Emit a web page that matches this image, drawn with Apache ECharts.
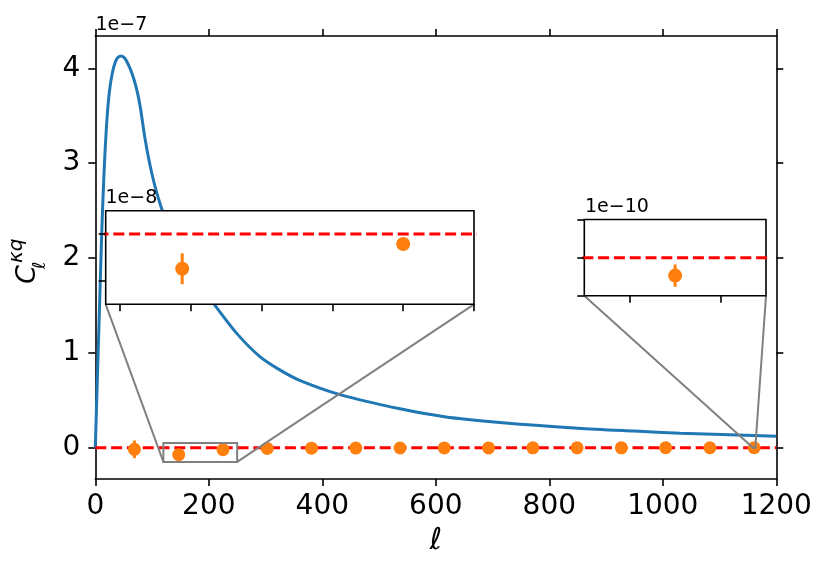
<!DOCTYPE html>
<html>
<head>
<meta charset="utf-8">
<title>C_l kappa q</title>
<script src="https://cdn.jsdelivr.net/npm/echarts@6/dist/echarts.min.js"></script>
<style>
  html, body { margin: 0; padding: 0; background: #fff; }
  #chart { width: 830px; height: 575px; }
</style>
</head>
<body>
<div id="chart"></div>
<script>
// theory curve C_l^{kappa q}
const ellTheory = [0, 2, 5, 8, 11, 14, 17, 21, 25, 30, 35, 40, 46, 52, 58, 65, 72, 79, 87, 95, 105, 117, 140, 170, 211, 250, 290, 325, 360, 431, 537, 615, 713, 850, 950, 1030, 1200];
const clTheory = [0, 0.4e-7, 1.0e-7, 1.6e-7, 2.2e-7, 2.7e-7, 3.1e-7, 3.5e-7, 3.76e-7, 3.95e-7, 4.06e-7, 4.115e-7, 4.13e-7, 4.105e-7, 4.04e-7, 3.94e-7, 3.8e-7, 3.6e-7, 3.28e-7, 3.02e-7, 2.76e-7, 2.52e-7, 2.16e-7, 1.84e-7, 1.5e-7, 1.2e-7, 0.96e-7, 0.82e-7, 0.71e-7, 0.56e-7, 0.41e-7, 0.327e-7, 0.266e-7, 0.206e-7, 0.175e-7, 0.153e-7, 0.12e-7];

// binned measurement
const ellBins = [69, 147, 225, 303, 381, 459, 537, 615, 693, 771, 849, 927, 1005, 1083, 1161];
const clBins = [-1.7e-9, -7.4e-9, -2.1e-9, -8e-10, -5e-10, -4e-10, -3e-10, -2.5e-10, -2e-10, -1.5e-10, -1.2e-10, -1e-10, -8e-11, -6e-11, -4.7e-11];
const errBins = [9.3e-9, 3.3e-9, 6e-10, 3e-10, 2e-10, 1.5e-10, 1.2e-10, 1e-10, 8e-11, 7e-11, 6e-11, 5e-11, 4e-11, 3.5e-11, 2.9e-11];

// axes
const xRangeMain = [0, 1200];
const yRangeMain = [-0.33e-7, 4.34e-7];
const xTicksMain = [0, 200, 400, 600, 800, 1000, 1200];
const yTicksMain = [0, 1e-7, 2e-7, 3e-7, 4e-7];

const xRangeZoom1 = [120, 250];
const yRangeZoom1 = [-1.5e-8, 0.5e-8];
const xTicksZoom1 = [125, 150, 175, 200, 225, 250];
const yTicksZoom1 = [-1e-8, 0];

const xRangeZoom2 = [1159, 1163];
const yRangeZoom2 = [-1e-10, 1e-10];
const xTicksZoom2 = [1160, 1162];
const yTicksZoom2 = [-1e-10, 0, 1e-10];

const FONT = 'DejaVu Sans';
const BLUE = '#1f77b4', ORANGE = '#ff7f0e', RED = '#ff0000', GREY = '#808080';

const theoryData = ellTheory.map((l, i) => [l, clTheory[i]]);
const binData = ellBins.map((l, i) => [l, clBins[i]]);
const errData = ellBins.map((l, i) => [l, clBins[i], errBins[i]]);
const zeroLine = [[xRangeMain[0], 0], [xRangeMain[1], 0]];

function errRender(params, api) {
  const x = api.value(0), y = api.value(1), e = api.value(2);
  const a = api.coord([x, y - e]);
  const b = api.coord([x, y + e]);
  return {
    type: 'line',
    shape: { x1: a[0], y1: a[1], x2: b[0], y2: b[1] },
    style: { stroke: ORANGE, lineWidth: 3 }
  };
}

function rectRender(params, api) {
  const a = api.coord([api.value(0), api.value(3)]);
  const b = api.coord([api.value(1), api.value(2)]);
  return {
    type: 'rect',
    shape: { x: a[0], y: a[1], width: b[0] - a[0], height: b[1] - a[1] },
    style: { fill: 'none', stroke: GREY, lineWidth: 2 }
  };
}

function mainAxis(pos, showLabel, ticks, range) {
  return {
    gridIndex: 0, type: 'value', position: pos,
    min: range[0], max: range[1],
    axisLine: { show: true, onZero: false, lineStyle: { color: '#000', width: 1.6 } },
    axisTick: { show: true, customValues: ticks, length: 7, lineStyle: { color: '#000', width: 1.6 } },
    axisLabel: { show: showLabel, customValues: ticks, color: '#000', fontSize: 28, fontFamily: FONT,
      formatter: v => String(v) },
    splitLine: { show: false }
  };
}

function insetAxis(grid, pos, ticks, range) {
  return {
    gridIndex: grid, type: 'value', position: pos, z: 12,
    min: range[0], max: range[1],
    axisLine: { show: false, onZero: false },
    axisTick: { show: true, customValues: ticks, length: 7, lineStyle: { color: '#000', width: 1.6 } },
    axisLabel: { show: false },
    splitLine: { show: false }
  };
}

const xBottom = mainAxis('bottom', true, xTicksMain, xRangeMain);
xBottom.axisLabel.margin = 14;
xBottom.name = 'ℓ';
xBottom.nameLocation = 'middle';
xBottom.nameGap = 45;
xBottom.nameTextStyle = { fontSize: 30, fontStyle: 'italic', fontFamily: FONT, color: '#000' };
const yLeft = mainAxis('left', true, yTicksMain, yRangeMain);
yLeft.axisLabel.margin = 15;
yLeft.axisLabel.formatter = v => String(Math.round(v / 1e-7));

const chart = echarts.init(document.getElementById('chart'));
chart.setOption({
  animation: false,
  backgroundColor: '#fff',
  grid: [
    { left: 95.3, top: 36, width: 681, height: 443 },
    { left: 105.7, top: 210.7, width: 368.3, height: 93.6, show: true, z: 10,
      backgroundColor: '#fff', borderColor: '#000', borderWidth: 1.6 },
    { left: 584.3, top: 219.5, width: 181.7, height: 76.3, show: true, z: 10,
      backgroundColor: '#fff', borderColor: '#000', borderWidth: 1.6 }
  ],
  xAxis: [
    xBottom,
    mainAxis('top', false, xTicksMain, xRangeMain),
    insetAxis(1, 'bottom', xTicksZoom1, xRangeZoom1),
    insetAxis(2, 'bottom', xTicksZoom2, xRangeZoom2)
  ],
  yAxis: [
    yLeft,
    mainAxis('right', false, yTicksMain, yRangeMain),
    insetAxis(1, 'left', yTicksZoom1, yRangeZoom1),
    insetAxis(2, 'left', yTicksZoom2, yRangeZoom2)
  ],
  series: [
    { type: 'line', xAxisIndex: 0, yAxisIndex: 0, data: theoryData, showSymbol: false,
      smooth: 0.3, lineStyle: { color: BLUE, width: 3 }, z: 2 },
    { type: 'line', xAxisIndex: 0, yAxisIndex: 0, data: zeroLine, showSymbol: false,
      lineStyle: { color: RED, width: 3, type: [11, 4.8] }, z: 3 },
    { type: 'custom', xAxisIndex: 0, yAxisIndex: 0, data: errData, renderItem: errRender, z: 4 },
    { type: 'scatter', xAxisIndex: 0, yAxisIndex: 0, data: binData, symbolSize: 13,
      itemStyle: { color: ORANGE, opacity: 1 }, z: 4 },
    { type: 'custom', xAxisIndex: 0, yAxisIndex: 0, renderItem: rectRender, z: 5,
      data: [[xRangeZoom1[0], xRangeZoom1[1], yRangeZoom1[0], yRangeZoom1[1]],
             [xRangeZoom2[0], xRangeZoom2[1], yRangeZoom2[0], yRangeZoom2[1]]] },

    { type: 'line', xAxisIndex: 2, yAxisIndex: 2, data: zeroLine, showSymbol: false, clip: true,
      lineStyle: { color: RED, width: 3, type: [11, 4.8] }, z: 11 },
    { type: 'custom', xAxisIndex: 2, yAxisIndex: 2, data: errData, renderItem: errRender, clip: true, z: 11 },
    { type: 'scatter', xAxisIndex: 2, yAxisIndex: 2, data: binData, symbolSize: 14, clip: true,
      itemStyle: { color: ORANGE, opacity: 1 }, z: 11 },

    { type: 'line', xAxisIndex: 3, yAxisIndex: 3, data: zeroLine, showSymbol: false, clip: true,
      lineStyle: { color: RED, width: 3, type: [11, 4.8] }, z: 11 },
    { type: 'custom', xAxisIndex: 3, yAxisIndex: 3, data: errData, renderItem: errRender, clip: true, z: 11 },
    { type: 'scatter', xAxisIndex: 3, yAxisIndex: 3, data: binData, symbolSize: 14, clip: true,
      itemStyle: { color: ORANGE, opacity: 1 }, z: 11 }
  ]
});

// connector lines between inset corners and zoom rectangles
function px(xi, yi, pt) { return chart.convertToPixel({ xAxisIndex: xi, yAxisIndex: yi }, pt); }
function connector(xi, pt) {
  const a = px(xi, xi, pt), b = px(0, 0, pt);
  return { type: 'line', z: 6, silent: true,
    shape: { x1: a[0], y1: a[1], x2: b[0], y2: b[1] },
    style: { stroke: GREY, lineWidth: 2 } };
}
function offsetText(x, y, txt) {
  return { type: 'text', x: x, y: y, z: 20,
    style: { text: txt, font: '19px "' + FONT + '"', fill: '#000', align: 'left', verticalAlign: 'middle' } };
}

chart.setOption({
  graphic: [
    connector(2, [xRangeZoom1[0], yRangeZoom1[0]]),
    connector(2, [xRangeZoom1[1], yRangeZoom1[0]]),
    connector(3, [xRangeZoom2[0], yRangeZoom2[0]]),
    connector(3, [xRangeZoom2[1], yRangeZoom2[0]]),
    offsetText(95.5, 25, '1e\u22127'),
    offsetText(105.5, 198, '1e\u22128'),
    offsetText(585, 207.5, '1e\u221210'),
    { type: 'group', x: 36, y: 284, rotation: Math.PI / 2, z: 20,
      children: [
        { type: 'text', x: 0, y: -8, style: { text: 'C', font: 'italic 27px "' + FONT + '"', fill: '#000', align: 'left', verticalAlign: 'middle' } },
        { type: 'text', x: 21, y: -19, style: { text: 'κq', font: 'italic 20px "' + FONT + '"', fill: '#000', align: 'left', verticalAlign: 'middle' } },
        { type: 'text', x: 15, y: 4, style: { text: 'ℓ', font: 'italic 18px "' + FONT + '"', fill: '#000', align: 'left', verticalAlign: 'middle' } }
      ] }
  ]
});
</script>
</body>
</html>
